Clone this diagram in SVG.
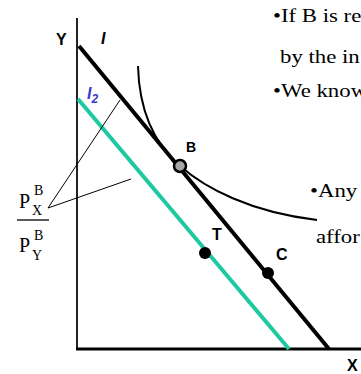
<svg xmlns="http://www.w3.org/2000/svg" width="361" height="374" viewBox="0 0 361 374">
<style>
.lbl{font-family:"Liberation Sans",Arial,sans-serif;font-weight:bold;font-size:16px;fill:#000}
.ser{font-family:"Liberation Serif","Times New Roman",serif;fill:#000}
.body{font-family:"Liberation Serif","Times New Roman",serif;font-size:19px;fill:#000}
.thin{stroke:#000;stroke-width:1;fill:none}
</style>
<rect width="361" height="374" fill="#fff"/>
<g id="axes">
<line x1="77" y1="18" x2="77" y2="350" stroke="#222" stroke-width="2"/>
<line x1="76" y1="349" x2="361" y2="349" stroke="#000" stroke-width="3"/>
<text class="lbl" x="56" y="45">Y</text>
<text class="lbl" x="347" y="371">X</text>
</g>
<g id="connectors">
<line id="budget-I" x1="79" y1="46" x2="329" y2="349" stroke="#000" stroke-width="4"/>
<line id="budget-I2" x1="78" y1="99" x2="289" y2="349" stroke="#1dc9a0" stroke-width="4"/>
<path id="indiff" d="M138,66 C139,105 150,140 180,166 C205,188 250,212 317,220" fill="none" stroke="#000" stroke-width="2"/>
<line class="thin" x1="48" y1="208" x2="120" y2="100"/>
<line class="thin" x1="48" y1="208" x2="131" y2="179"/>
</g>
<g id="label-I"><text class="lbl" x="101" y="44" font-style="italic">I</text></g>
<g id="label-I2"><text class="lbl" x="87" y="99" font-style="italic" style="fill:#3a3acc">I<tspan font-size="12" dy="4">2</tspan></text></g>
<g id="node-B">
<circle cx="180" cy="166" r="6" fill="#a6a6a6" stroke="#000" stroke-width="2.5"/>
<text class="lbl" x="186" y="152" style="font-size:14px">B</text>
</g>
<g id="node-T">
<circle cx="205" cy="253" r="6" fill="#000"/>
<text class="lbl" x="212" y="240">T</text>
</g>
<g id="node-C">
<circle cx="268" cy="273" r="6" fill="#000"/>
<text class="lbl" x="276" y="260">C</text>
</g>
<g id="fraction">
<text class="ser" x="19" y="208" font-size="20">P</text>
<text class="ser" x="32" y="215" font-size="14">X</text>
<text class="ser" x="34" y="195" font-size="14">B</text>
<line x1="17" y1="220" x2="49" y2="220" stroke="#000" stroke-width="1.3"/>
<text class="ser" x="19" y="252" font-size="20">P</text>
<text class="ser" x="32" y="260" font-size="14">Y</text>
<text class="ser" x="34" y="240" font-size="14">B</text>
</g>
<g id="text">
<text class="body" transform="translate(273,22) scale(1.2,1)">•If B is re</text>
<text class="body" transform="translate(280,63) scale(1.2,1)">by the in</text>
<text class="body" transform="translate(273,97) scale(1.2,1)">•We know</text>
<text class="body" transform="translate(310,197) scale(1.2,1)">•Any</text>
<text class="body" transform="translate(316,243) scale(1.2,1)">affor</text>
</g>
</svg>
